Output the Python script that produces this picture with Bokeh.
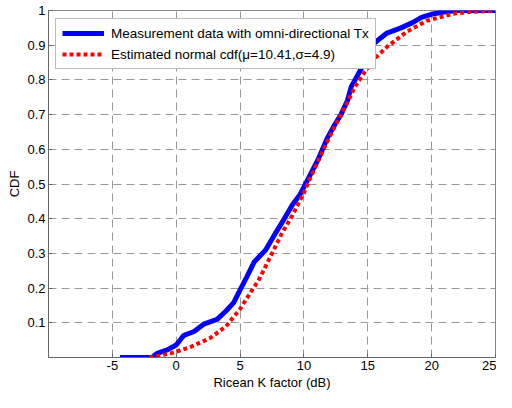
from bokeh.plotting import figure
from bokeh.models import Range1d, FixedTicker, Legend, LegendItem
from bokeh.embed import file_html
from bokeh.resources import INLINE

blue_x = [-4.4, -1.9, -1.5, -0.7, 0.0, 0.6, 1.4, 2.15, 3.2, 3.9, 4.5, 5.0, 5.5, 6.1, 7.0, 7.8,
          8.3, 9.1, 9.7, 10.4, 11.1, 11.8, 12.4, 12.9, 13.4, 13.7, 14.6, 15.1, 15.3, 16.5,
          17.6, 18.5, 19.2, 20.1, 20.8, 22.0, 25.0]
blue_y = [0.0, 0.0, 0.012, 0.022, 0.036, 0.064, 0.075, 0.096, 0.11, 0.134, 0.158, 0.195, 0.23,
          0.275, 0.31, 0.36, 0.39, 0.44, 0.47, 0.52, 0.57, 0.63, 0.67, 0.70, 0.74, 0.78, 0.84,
          0.87, 0.90, 0.935, 0.95, 0.965, 0.98, 0.99, 0.995, 1.0, 1.0]

# Estimated normal cdf
red_x = [-2.1, -0.4, 1.1, 2.7, 3.9, 5.0, 5.7, 6.5, 7.5, 8.3, 9.1, 10.0, 10.4, 11.1, 11.8, 12.4,
         12.9, 13.4, 14.0, 14.7, 15.5, 16.5, 18.1, 19.6, 21.6, 23.0, 25.0]
red_y = [0.0, 0.012, 0.03, 0.057, 0.09, 0.14, 0.18, 0.226, 0.30, 0.36, 0.41, 0.475, 0.51, 0.565,
         0.62, 0.665, 0.70, 0.735, 0.78, 0.82, 0.86, 0.895, 0.94, 0.97, 0.99, 0.996, 0.999]

x_ticks = [-5, 0, 5, 10, 15, 20, 25]
y_ticks = [0.1, 0.2, 0.3, 0.4, 0.5, 0.6, 0.7, 0.8, 0.9, 1.0]

label_blue = "Measurement data with omni-directional Tx"
label_red = "Estimated normal cdf(\u03bc=10.41,\u03c3=4.9)"

FONT = "Liberation Sans"

p = figure(width=496, height=392, output_backend="svg", toolbar_location=None,
           x_range=Range1d(-10, 25), y_range=Range1d(0, 1),
           min_border_left=48, min_border_right=1, min_border_top=10, min_border_bottom=35)

r_blue = p.line(blue_x, blue_y, line_color="#0000ff", line_width=5)
r_red = p.line(red_x, red_y, line_color="#ff0000", line_width=4, line_dash="4 3",
               line_cap="butt")

p.xaxis.ticker = FixedTicker(ticks=x_ticks)
p.yaxis.ticker = FixedTicker(ticks=y_ticks)
p.xaxis.major_label_overrides = {-5: "-5"}
p.yaxis.major_label_overrides = {1: "1"}
p.xaxis.axis_label = "Ricean K factor (dB)"
p.yaxis.axis_label = "CDF"
for ax in (p.xaxis, p.yaxis):
    ax.major_label_text_font = FONT
    ax.major_label_text_font_size = "13px"
    ax.major_label_text_color = "#000000"
    ax.axis_label_text_font = FONT
    ax.axis_label_text_font_size = "13px"
    ax.axis_label_text_font_style = "normal"
    ax.axis_label_text_color = "#000000"
    ax.axis_line_color = "#666666"
    ax.major_tick_line_color = "#666666"
    ax.major_tick_in = 4
    ax.major_tick_out = 0
    ax.minor_tick_line_color = None
    ax.major_label_standoff = 3
    ax.axis_label_standoff = 2

p.grid.grid_line_color = "#999999"
p.grid.grid_line_dash = "8 5"
p.grid.grid_line_width = 1
p.outline_line_color = "#888888"
p.background_fill_color = "white"
p.border_fill_color = "white"

legend = Legend(items=[LegendItem(label=label_blue, renderers=[r_blue]),
                       LegendItem(label=label_red, renderers=[r_red])],
                location=(7, 288))
legend.label_text_font = FONT
legend.label_text_font_size = "13.5px"
legend.label_text_color = "#000000"
legend.border_line_color = "#777777"
legend.background_fill_alpha = 1
legend.padding = 6
legend.spacing = 5
legend.glyph_width = 42
legend.glyph_height = 16
legend.label_height = 16
legend.label_standoff = 7
legend.margin = 0
p.add_layout(legend, "center")

open("out.html", "w").write(file_html(p, INLINE))
